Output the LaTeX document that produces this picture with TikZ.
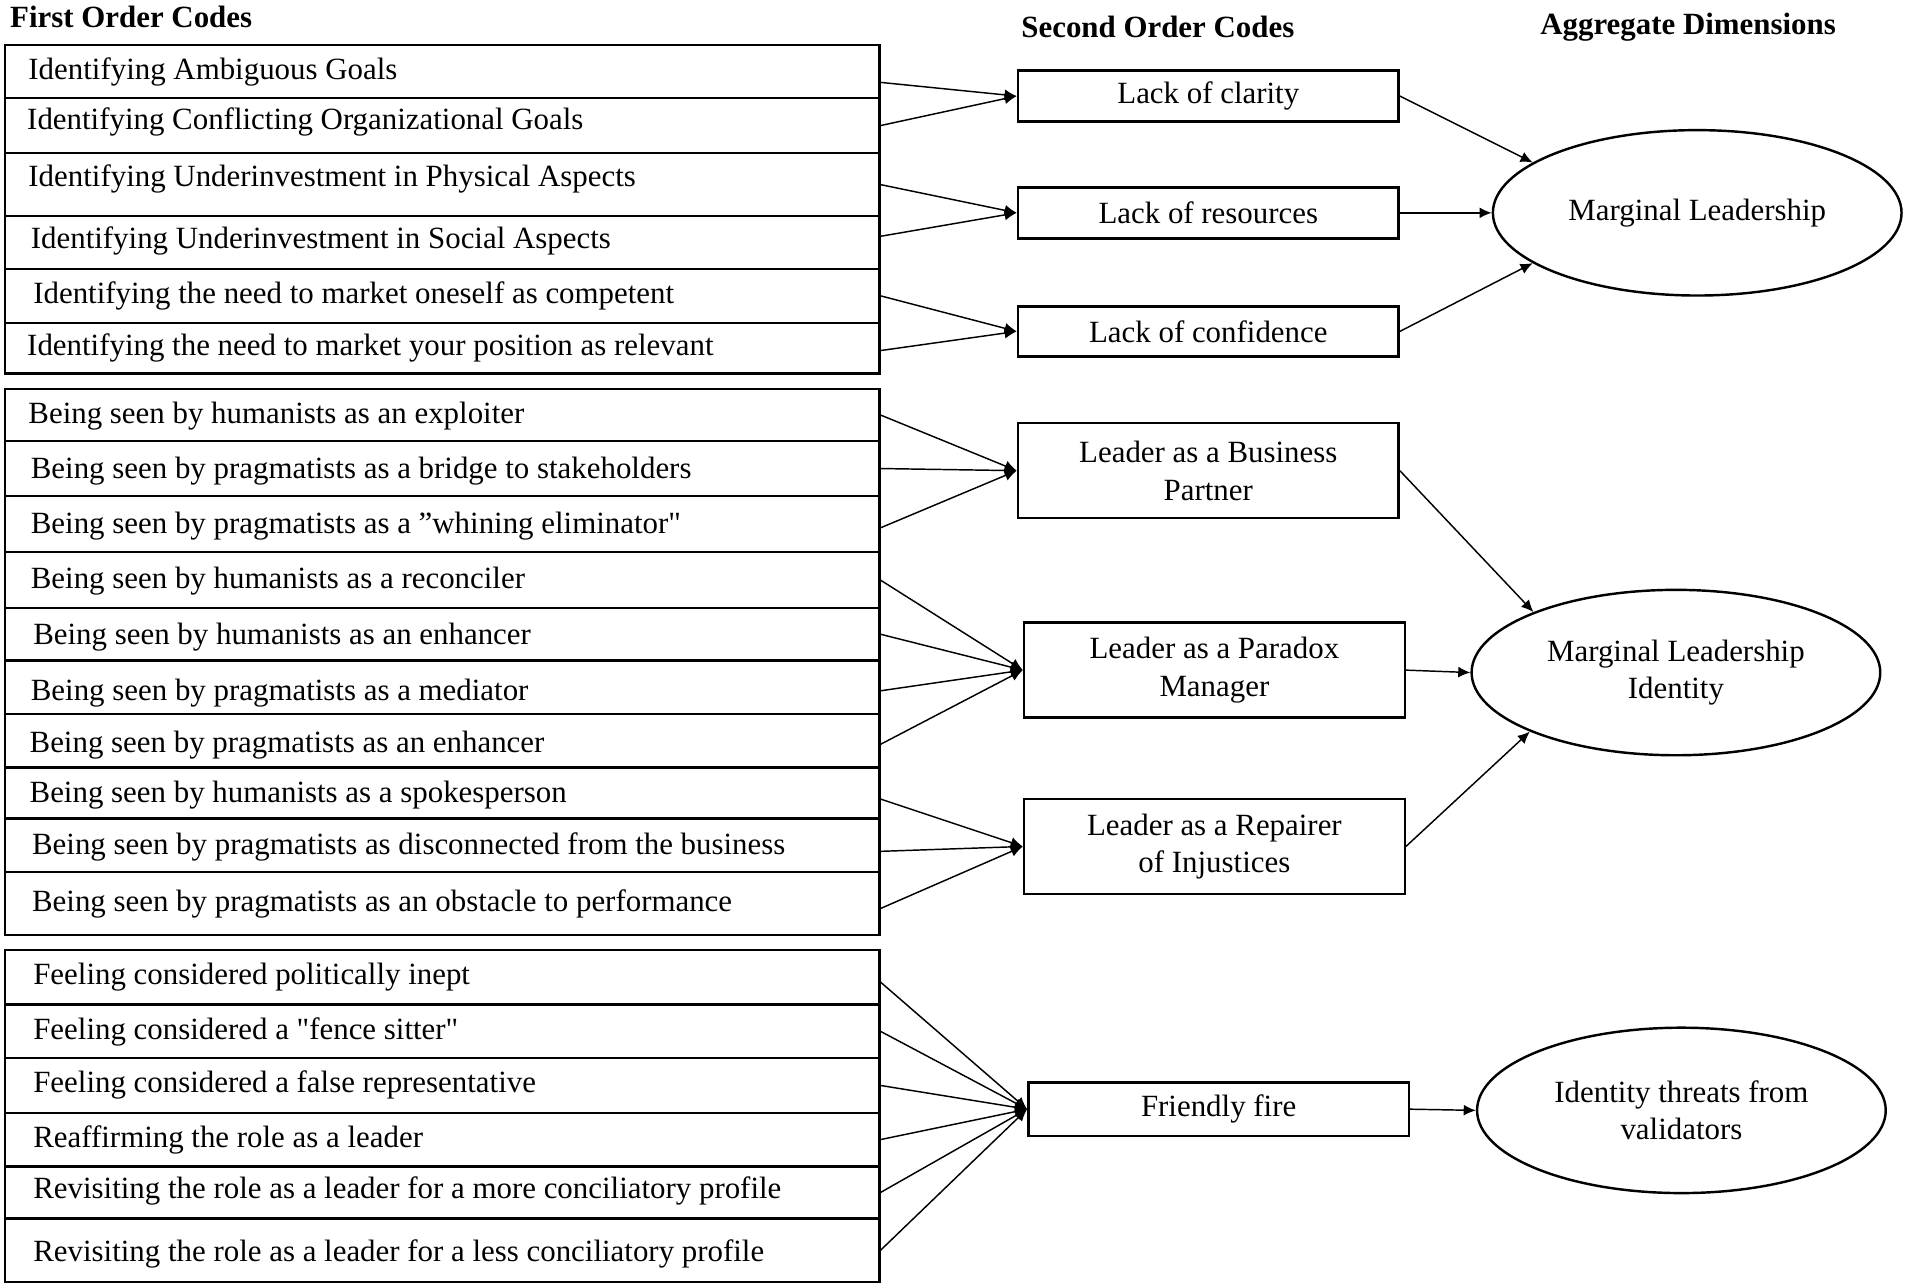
\documentclass[tikz,border=0pt]{standalone}
\usepackage{fontspec}
\setmainfont{Liberation Serif}[Ligatures=TeXOff]
\usetikzlibrary{shapes.geometric,fit,arrows.meta}
\newcommand\coderow[6]{%
  \node[rowbox,fit={(4,#2)(723,#3)}] (#1) {};
  \node[rowtxt] (#1t) at (#4,#5) {#6};}
\begin{document}
\begin{tikzpicture}[x=0.5pt,y=-0.5pt,
  font=\fontsize{12.7}{15.5}\selectfont,
  rowbox/.style={draw,line width=1pt,inner sep=0pt},
  rowtxt/.style={anchor=west,inner sep=0pt,text height=0.68em,text depth=0.22em,yshift=-1.5pt},
  codebox/.style={draw,line width=1pt,minimum width=156.5pt,align=center,inner sep=0pt},
  dimell/.style={draw,ellipse,line width=1pt,minimum width=168pt,minimum height=68pt,inner sep=0pt,align=center},
  head/.style={font=\fontsize{12.7}{15.5}\selectfont\bfseries,inner sep=0pt},
  link/.style={line width=0.6pt,-{Latex[length=5pt,width=4.5pt]}},
]
\useasboundingbox (0,0) rectangle (1568,1058);

% headers
\node[head,anchor=west] (h1) at (8,14) {First Order Codes};
\node[head] (h2) at (952,22) {Second Order Codes};
\node[head] (h3) at (1388,22) {Aggregate Dimensions};

% group 1
\coderow{a1}{37}{80.5}{23}{58}{Identifying Ambiguous Goals}
\coderow{a2}{80.5}{126}{22}{99}{Identifying Conflicting Organizational Goals}
\coderow{a3}{126}{177.6}{23}{146}{Identifying Underinvestment in Physical Aspects}
\coderow{a4}{177.6}{221}{25}{197}{Identifying Underinvestment in Social Aspects}
\coderow{a5}{221}{265.5}{27}{242}{Identifying the need to market oneself as competent}
\coderow{a6}{265.5}{307}{22}{285}{Identifying the need to market your position as relevant}

% group 2
\coderow{b1}{320}{362.5}{23}{341}{Being seen by humanists as an exploiter}
\coderow{b2}{362.5}{408}{25}{386}{Being seen by pragmatists as a bridge to stakeholders}
\coderow{b3}{408}{454}{25}{431}{Being seen by pragmatists as a ”whining eliminator"}
\coderow{b4}{454}{500}{25}{476}{Being seen by humanists as a reconciler}
\coderow{b5}{500}{543}{27}{522}{Being seen by humanists as an enhancer}
\coderow{b6}{543}{587}{25}{568}{Being seen by pragmatists as a mediator}
\coderow{b7}{587}{631}{24}{611}{Being seen by pragmatists as an enhancer}
\coderow{b8}{631}{673}{24}{652}{Being seen by humanists as a spokesperson}
\coderow{b9}{673}{717}{26}{695}{Being seen by pragmatists as disconnected from the business}
\coderow{b10}{717}{769}{26}{742}{Being seen by pragmatists as an obstacle to performance}

% group 3
\coderow{c1}{781}{826}{27}{802}{Feeling considered politically inept}
\coderow{c2}{826}{870}{27}{847}{Feeling considered a "fence sitter"}
\coderow{c3}{870}{915}{27}{891}{Feeling considered a false representative}
\coderow{c4}{915}{959}{27}{936}{Reaffirming the role as a leader}
\coderow{c5}{959}{1002}{27}{978}{Revisiting the role as a leader for a more conciliatory profile}
\coderow{c6}{1002}{1054}{27}{1030}{Revisiting the role as a leader for a less conciliatory profile}

% second order codes
\node[codebox,minimum height=21pt] (clar) at (993.5,79) {Lack of clarity};
\node[codebox,minimum height=21pt] (reso) at (993.5,175) {Lack of resources};
\node[codebox,minimum height=20.5pt] (conf) at (993.5,272.5) {Lack of confidence};
\node[codebox,minimum height=39pt] (busi) at (993.5,387) {Leader as a Business\\Partner};
\node[codebox,minimum height=39pt] (para) at (998.5,551) {Leader as a Paradox\\Manager};
\node[codebox,minimum height=39pt] (repa) at (998.5,696) {Leader as a Repairer\\of Injustices};
\node[codebox,minimum height=22pt] (frie) at (1002,912) {Friendly fire};

% aggregate dimensions
\node[dimell] (ml) at (1395.5,175) {Marginal Leadership};
\node[dimell] (mli) at (1378,553) {Marginal Leadership\\Identity};
\node[dimell] (itv) at (1382.5,913) {Identity threats from\\validators};

% first -> second
\draw[link] ([yshift=-4.5pt]a1.east) -- (clar.west);
\draw[link] (a2.east) -- (clar.west);
\draw[link] (a3.east) -- (reso.west);
\draw[link] ([yshift=2.5pt]a4.east) -- (reso.west);
\draw[link] (a5.east) -- (conf.west);
\draw[link] ([yshift=-1pt]a6.east) -- (conf.west);

\draw[link] (b1.east) -- (busi.west);
\draw[link] (b2.east) -- (busi.west);
\draw[link] ([yshift=-1.5pt]b3.east) -- (busi.west);
\draw[link] (b4.east) -- (para.west);
\draw[link] (b5.east) -- (para.west);
\draw[link] ([yshift=-1.5pt]b6.east) -- (para.west);
\draw[link] ([yshift=-1.5pt]b7.east) -- (para.west);
\draw[link] ([yshift=-2.5pt]b8.east) -- (repa.west);
\draw[link] ([yshift=-2.5pt]b9.east) -- (repa.west);
\draw[link] ([yshift=-2pt]b10.east) -- (repa.west);

\draw[link] ([yshift=-2pt]c1.east) -- (frie.west);
\draw[link] (c2.east) -- (frie.west);
\draw[link] (c3.east) -- (frie.west);
\draw[link] (c4.east) -- (frie.west);
\draw[link] (c5.east) -- (frie.west);
\draw[link] (c6.east) -- (frie.west);

% second -> aggregate
\draw[link] (clar.east) -- (ml.163);
\draw[link] (reso.east) -- (ml.west);
\draw[link] (conf.east) -- (ml.197);
\draw[link] (busi.east) -- (mli.157);
\draw[link] (para.east) -- (mli.west);
\draw[link] (repa.east) -- (mli.202);
\draw[link] (frie.east) -- (itv.west);
\end{tikzpicture}
\end{document}
